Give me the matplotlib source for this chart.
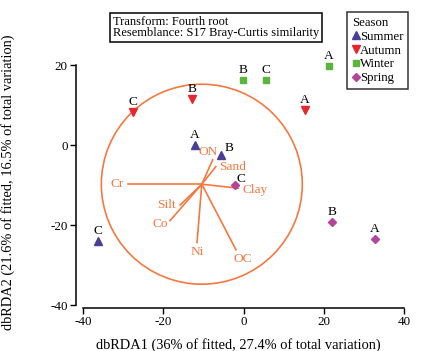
import matplotlib
matplotlib.use("Agg")
import matplotlib.pyplot as plt
from matplotlib.patches import Circle
from matplotlib.lines import Line2D

plt.rcParams["font.family"] = ["Liberation Serif", "DejaVu Serif"]
plt.rcParams["axes.unicode_minus"] = False

# sample scores on dbRDA1 / dbRDA2
seasons = ["Summer", "Autumn", "Winter", "Spring"]
sites = ["A", "B", "C"]
summer_x = [-12.2, -5.7, -36.3]
summer_y = [-0.1, -2.5, -24.0]
autumn_x = [15.2, -12.8, -27.6]
autumn_y = [8.7, 11.4, 8.3]
winter_x = [21.2, -0.2, 5.5]
winter_y = [19.8, 16.2, 16.2]
spring_x = [32.6, 22.0, -2.2]
spring_y = [-23.6, -19.2, -9.9]

# environmental vectors (ends relative to circle centre)
env_vars = ["Cr", "Sand", "ON", "Clay", "Silt", "Co", "Ni", "OC"]
env_dx = [-18.4, 3.5, 2.7, 9.1, -5.4, -7.9, -1.2, 8.5]
env_dy = [0.0, 4.4, 6.1, -1.0, -5.2, -9.1, -14.6, -16.4]
circle_center = (-10.4, -9.8)
circle_radius = 25.0

orange = "#F47840"
colors = {"Summer": "#4A3E96", "Autumn": "#E8262B", "Winter": "#5BB43C", "Spring": "#B2449C"}
markers = {"Summer": "^", "Autumn": "v", "Winter": "s", "Spring": "D"}
msize = {"Summer": 5.5, "Autumn": 5.5, "Winter": 4.6, "Spring": 4.4}

fig = plt.figure(figsize=(4.28, 3.51), dpi=100)
ax = fig.add_axes([0.1776, 0.1225, 0.786, 0.8746])
ax.set_xlim(-41.7, 42)
ax.set_ylim(-40.75, 36)

# correlation circle and vectors
ax.add_patch(Circle(circle_center, circle_radius, fill=False, ec=orange, lw=1.2))
cx, cy = circle_center
label_style = {
    "Cr": dict(dx=-4, dy=0, ha="right", va="center"),
    "Sand": dict(dx=3, dy=0, ha="left", va="center"),
    "ON": dict(dx=-5, dy=2, ha="center", va="bottom"),
    "Clay": dict(dx=4, dy=-2, ha="left", va="center"),
    "Silt": dict(dx=-4, dy=0, ha="right", va="center"),
    "Co": dict(dx=-2, dy=-3, ha="right", va="center"),
    "Ni": dict(dx=0, dy=-3, ha="center", va="top"),
    "OC": dict(dx=7, dy=-3, ha="center", va="top"),
}
for name, dx, dy in zip(env_vars, env_dx, env_dy):
    ax.plot([cx, cx + dx], [cy, cy + dy], color=orange, lw=1.2)
    st = label_style[name]
    ax.annotate(name, (cx + dx, cy + dy), xytext=(st["dx"], st["dy"]),
                textcoords="offset pixels", ha=st["ha"], va=st["va"],
                color=orange, fontsize=9.6)

# samples
xs = {"Summer": summer_x, "Autumn": autumn_x, "Winter": winter_x, "Spring": spring_x}
ys = {"Summer": summer_y, "Autumn": autumn_y, "Winter": winter_y, "Spring": spring_y}
for s in seasons:
    ax.plot(xs[s], ys[s], linestyle="none", marker=markers[s], color=colors[s],
            markersize=msize[s], zorder=3)
    for site, x, y in zip(sites, xs[s], ys[s]):
        if (s, site) == ("Summer", "B"):
            off = (8, 7)
        elif (s, site) == ("Spring", "C"):
            off = (6, 6)
        else:
            off = (0, 10)
        ax.annotate(site, (x, y), xytext=off, textcoords="offset pixels",
                    ha="center", va="center", fontsize=9.6)

# axes styling
for side in ["top", "right"]:
    ax.spines[side].set_visible(False)
ax.spines["left"].set_bounds(-40, 20)
ax.spines["bottom"].set_bounds(-40, 40)
ax.set_xticks([-40, -20, 0, 20, 40])
ax.set_yticks([-40, -20, 0, 20])
ax.tick_params(direction="out", length=4, width=1, pad=2, labelsize=9.4)
for sp in ax.spines.values():
    sp.set_linewidth(1.1)
ax.set_xlabel("dbRDA1 (36% of fitted, 27.4% of total variation)", fontsize=10.4)
ax.set_ylabel("dbRDA2 (21.6% of fitted, 16.5% of total variation)", fontsize=10.4)
ax.xaxis.set_label_coords(0.483, -0.097)
ax.yaxis.set_label_coords(-0.18, 0.41)

# info box
fig.text(0.264, 0.955, "Transform: Fourth root\nResemblance: S17 Bray-Curtis similarity",
         fontsize=9.0, ha="left", va="top", linespacing=0.95,
         bbox=dict(boxstyle="square,pad=0.25", fc="white", ec="black", lw=1.1))

# legend
handles = [Line2D([], [], linestyle="none", marker=markers[s], color=colors[s],
                  markersize=msize[s] - 0.3) for s in seasons]
leg = ax.legend(handles, seasons, title="Season", loc="upper right",
                bbox_to_anchor=(0.954, 0.967), bbox_transform=fig.transFigure,
                fontsize=9.2, title_fontsize=9.2, frameon=True, fancybox=False,
                handlelength=0.55, handletextpad=0.05, borderpad=0.4,
                labelspacing=0.15, borderaxespad=0)
leg._legend_box.align = "left"
leg.get_frame().set_edgecolor("black")
leg.get_frame().set_linewidth(1.1)

fig.savefig("out.png", dpi=100)
